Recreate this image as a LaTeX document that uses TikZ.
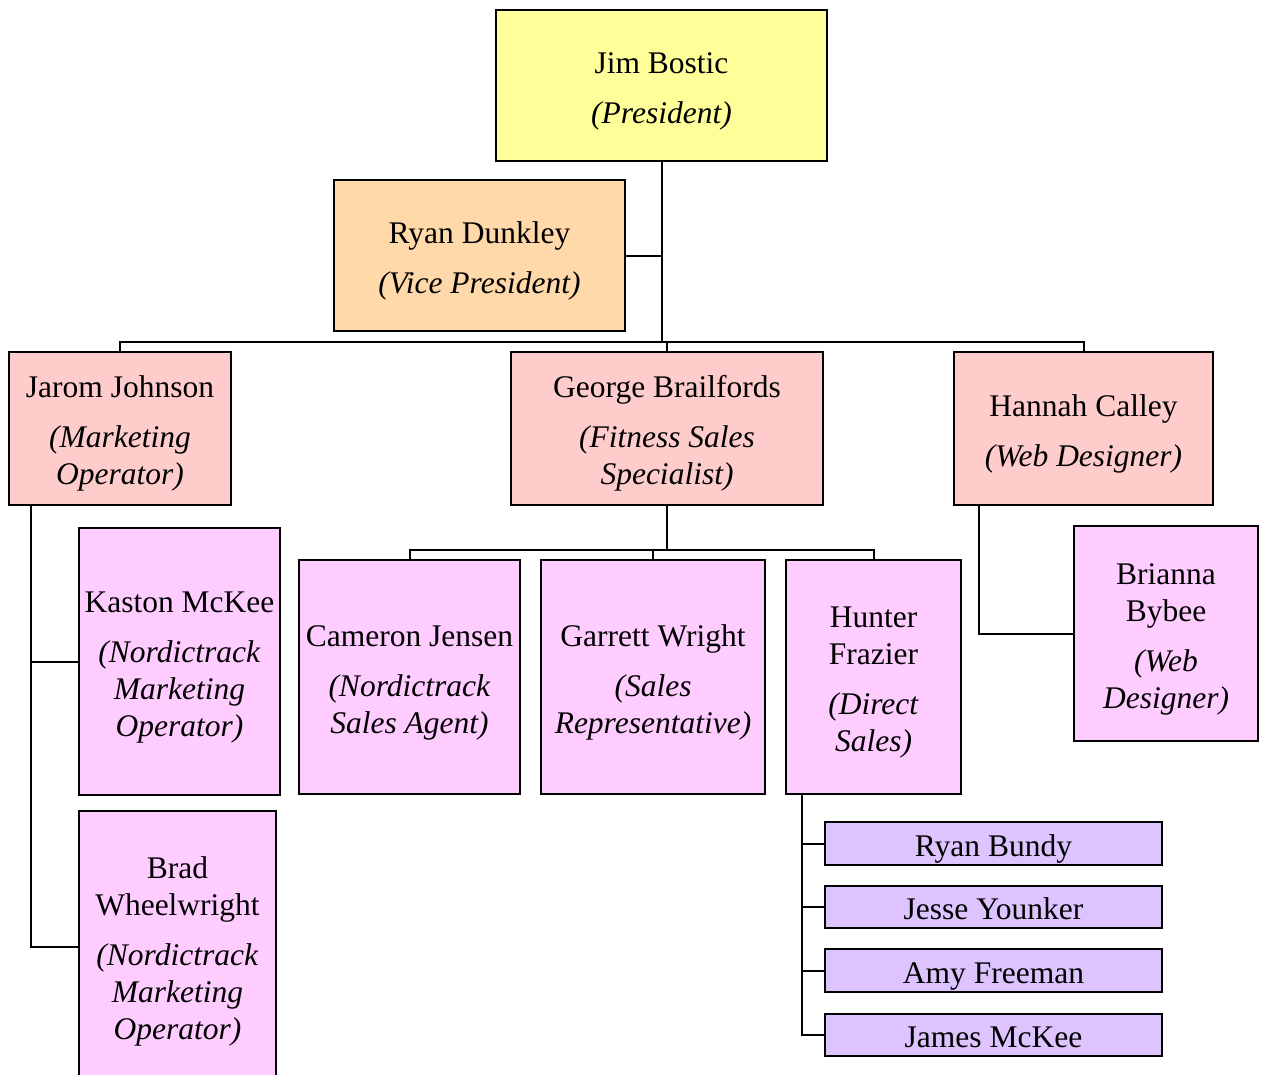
\documentclass[tikz,border=0pt]{standalone}
\usepackage{fontspec}
\setmainfont{Liberation Serif}
\definecolor{cYellow}{HTML}{FFFF99}
\definecolor{cPeach}{HTML}{FFD9AA}
\definecolor{cPink}{HTML}{FFCCCC}
\definecolor{cMagenta}{HTML}{FFCCFF}
\definecolor{cLav}{HTML}{DDC4FF}
\newcommand{\topstrut}{\rule{0pt}{32pt}}
\begin{document}
\begin{tikzpicture}[x=1pt,y=-1pt,line width=2pt,
  box/.style={draw=black,rectangle,inner sep=0pt,align=center,
    font=\fontsize{31.5}{37}\selectfont},
  onebox/.style={box,text height=25pt,text depth=0pt},
  conn/.style={draw=black,line width=2pt}]
\useasboundingbox (0,0) rectangle (1265,1075);
\clip (0,0) rectangle (1265,1075);
\fill[white] (0,0) rectangle (1265,1075);
% top level
\node[box,fill=cYellow,minimum width=331,minimum height=151] (pres) at (661.5,85.5)
  {\topstrut Jim Bostic\\[13pt]\textit{(President)}};
\node[box,fill=cPeach,minimum width=291,minimum height=151] (vp) at (479.5,255.5)
  {\topstrut Ryan Dunkley\\[13pt]\textit{(Vice President)}};
% second level
\node[box,fill=cPink,minimum width=222,minimum height=153] (jarom) at (120,428.5)
  {\topstrut Jarom Johnson\\[13pt]\textit{(Marketing}\\\textit{Operator)}};
\node[box,fill=cPink,minimum width=312,minimum height=153] (george) at (667,428.5)
  {\topstrut George Brailfords\\[13pt]\textit{(Fitness Sales}\\\textit{Specialist)}};
\node[box,fill=cPink,minimum width=259,minimum height=153] (hannah) at (1083.5,428.5)
  {\topstrut Hannah Calley\\[13pt]\textit{(Web Designer)}};
% third level
\node[box,fill=cMagenta,minimum width=201,minimum height=267] (kaston) at (179.5,661.5)
  {\topstrut Kaston McKee\\[13pt]\textit{(Nordictrack}\\\textit{Marketing}\\\textit{Operator)}};
\node[box,fill=cMagenta,minimum width=197,minimum height=271] (brad) at (177.5,946.5)
  {\topstrut Brad\\Wheelwright\\[13pt]\textit{(Nordictrack}\\\textit{Marketing}\\\textit{Operator)}};
\node[box,fill=cMagenta,minimum width=221,minimum height=234] (cam) at (409.5,677)
  {\topstrut Cameron Jensen\\[13pt]\textit{(Nordictrack}\\\textit{Sales Agent)}};
\node[box,fill=cMagenta,minimum width=224,minimum height=234] (gar) at (653,677)
  {\topstrut Garrett Wright\\[13pt]\textit{(Sales}\\\textit{Representative)}};
\node[box,fill=cMagenta,minimum width=175,minimum height=234] (hunter) at (873.5,677)
  {\topstrut Hunter\\Frazier\\[13pt]\textit{(Direct}\\\textit{Sales)}};
\node[box,fill=cMagenta,minimum width=184,minimum height=215] (bri) at (1166,633.5)
  {\topstrut Brianna\\Bybee\\[13pt]\textit{(Web}\\\textit{Designer)}};
% fourth level
\node[onebox,fill=cLav,minimum width=337,minimum height=43] (rb) at (993.5,843.5) {Ryan Bundy};
\node[onebox,fill=cLav,minimum width=337,minimum height=42] (jy) at (993.5,907) {Jesse Younker};
\node[onebox,fill=cLav,minimum width=337,minimum height=43] (af) at (993.5,970.5) {Amy Freeman};
\node[onebox,fill=cLav,minimum width=337,minimum height=42] (jm) at (993.5,1035) {James McKee};
% connectors
\coordinate (bar) at (0,342);
\coordinate (gbar) at (0,550);
\draw[conn] (pres.south) -- (pres.south |- bar);
\draw[conn] (vp.east) -- (vp.east -| pres.south);
\draw[conn] (jarom.north) -- (jarom.north |- bar) -- (hannah.north |- bar) -- (hannah.north);
\draw[conn] (george.north) -- (george.north |- bar);
\draw[conn] (george.south) -- (george.south |- gbar);
\draw[conn] (cam.north) -- (cam.north |- gbar) -- (hunter.north |- gbar) -- (hunter.north);
\draw[conn] (gar.north) -- (gar.north |- gbar);
\coordinate (jl) at ([xshift=23pt]jarom.south west);
\draw[conn] (jl) |- (brad.west);
\draw[conn] (kaston.west) -- (kaston.west -| jl);
\coordinate (hl) at ([xshift=17pt]hunter.south west);
\draw[conn] (hl) |- (jm.west);
\draw[conn] (rb.west) -- (rb.west -| hl);
\draw[conn] (jy.west) -- (jy.west -| hl);
\draw[conn] (af.west) -- (af.west -| hl);
\coordinate (nl) at ([xshift=26pt]hannah.south west);
\draw[conn] (nl) |- (bri.west);
\end{tikzpicture}
\end{document}
